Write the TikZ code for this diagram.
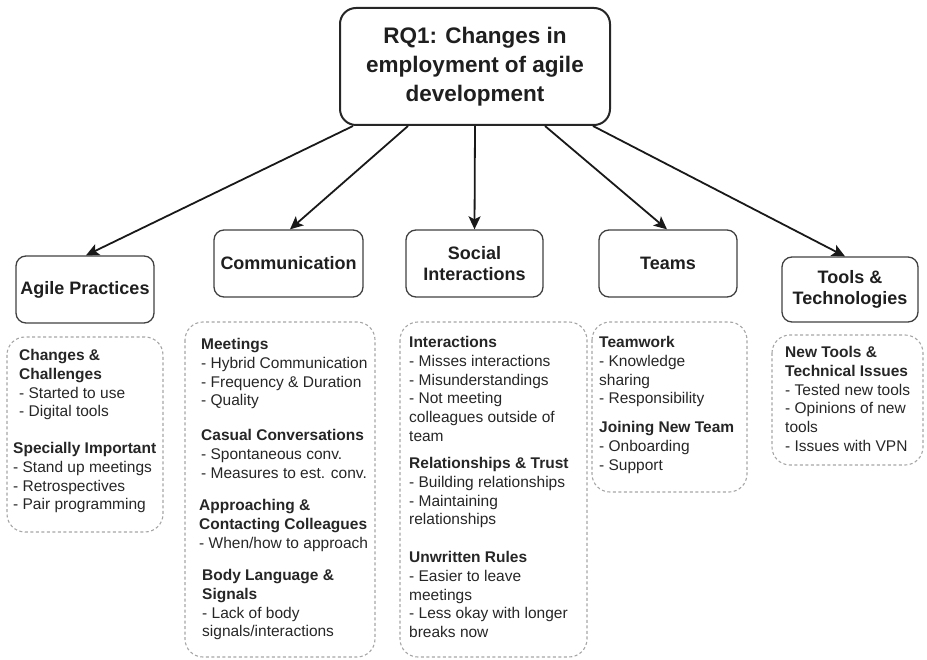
\documentclass[tikz,border=0pt]{standalone}
\usepackage{fontspec}
\setmainfont{Liberation Sans}
\usetikzlibrary{arrows.meta}
\begin{document}
\begin{tikzpicture}[x=1pt,y=-1pt,
  titlebox/.style={draw=black!85, line width=2pt, rounded corners=16pt, minimum width=270pt, minimum height=117pt, align=center, inner sep=0pt, font=\fontsize{22.5}{29}\selectfont\bfseries, text=black!88},
  catbox/.style={draw=black!75, line width=1.3pt, rounded corners=10pt, align=center, inner sep=0pt, font=\fontsize{18}{21}\selectfont\bfseries, text=black!88},
  dbox/.style={draw=black!35, line width=1.1pt, dash pattern=on 3pt off 2.5pt, rounded corners=18pt},
  body/.style={anchor=north west, inner sep=0pt, align=left, font=\fontsize{15.5}{18.7}\selectfont, text=black!85},
  arr/.style={draw=black!90, line width=1.8pt, -{Stealth[length=13pt,width=12pt,inset=3pt]}}
]
\useasboundingbox (0,0) rectangle (927,660);

% main node
\node[titlebox] (rq) at (475,66.5) {RQ1: Changes in\\employment of agile\\development};

% categories
\node[catbox, minimum width=138pt, minimum height=67pt] (agile)  at (85,289.5)  {Agile Practices};
\node[catbox, minimum width=149pt, minimum height=67pt] (comm)   at (288.5,263.5) {Communication};
\node[catbox, minimum width=137pt, minimum height=67pt] (social) at (474.5,263.5) {Social\\Interactions};
\node[catbox, minimum width=138pt, minimum height=67pt] (teams)  at (668,263.5) {Teams};
\node[catbox, minimum width=136pt, minimum height=65pt] (tools)  at (850,289.5) {Tools \&\\Technologies};

% arrows
\draw[arr] ([xshift=-122pt]rq.south) -- ([xshift=1pt]agile.north);
\draw[arr] ([xshift=-67pt]rq.south) -- ([xshift=1.5pt]comm.north);
\draw[arr] (rq.south) -- (social.north);
\draw[arr] ([xshift=70pt]rq.south) -- ([xshift=-1pt]teams.north);
\draw[arr] ([xshift=118pt]rq.south) -- ([xshift=-5pt]tools.north);

% dashed boxes
\draw[dbox] (7,337) rectangle (163,532);
\draw[dbox] (185,322) rectangle (375,657);
\draw[dbox] (400,322) rectangle (587,657);
\draw[dbox] (592,322) rectangle (747,492);
\draw[dbox] (772,335) rectangle (923,465);

% Agile practices
\node[body] (ag1) at (19,349.3) {\textbf{Changes \&}\\\textbf{Challenges}\\- Started to use\\- Digital tools};
\node[body] (ag2) at (13,442.3) {\textbf{Specially Important}\\- Stand up meetings\\- Retrospectives\\- Pair programming};

% Communication
\node[body] (co1) at (201,338.3) {\textbf{Meetings}\\- Hybrid Communication\\- Frequency \& Duration\\- Quality};
\node[body] (co2) at (201,429.3) {\textbf{Casual Conversations}\\- Spontaneous conv.\\- Measures to est. conv.};
\node[body] (co3) at (199,499.3) {\textbf{Approaching \&}\\\textbf{Contacting Colleagues}\\- When/how to approach};
\node[body] (co4) at (202,569.3) {\textbf{Body Language \&}\\\textbf{Signals}\\- Lack of body\\signals/interactions};

% Social interactions
\node[body] (so1) at (409,336.3) {\textbf{Interactions}\\- Misses interactions\\- Misunderstandings\\- Not meeting\\colleagues outside of\\team};
\node[body] (so2) at (409,457.3) {\textbf{Relationships \& Trust}\\- Building relationships\\- Maintaining\\relationships};
\node[body] (so3) at (409,551.3) {\textbf{Unwritten Rules}\\- Easier to leave\\meetings\\- Less okay with longer\\breaks now};

% Teams
\node[body] (te1) at (599,336.3) {\textbf{Teamwork}\\- Knowledge\\sharing\\- Responsibility};
\node[body] (te2) at (599,421.3) {\textbf{Joining New Team}\\- Onboarding\\- Support};

% Tools
\node[body] (to1) at (785,346.3) {\textbf{New Tools \&}\\\textbf{Technical Issues}\\- Tested new tools\\- Opinions of new\\tools\\- Issues with VPN};
\end{tikzpicture}
\end{document}
